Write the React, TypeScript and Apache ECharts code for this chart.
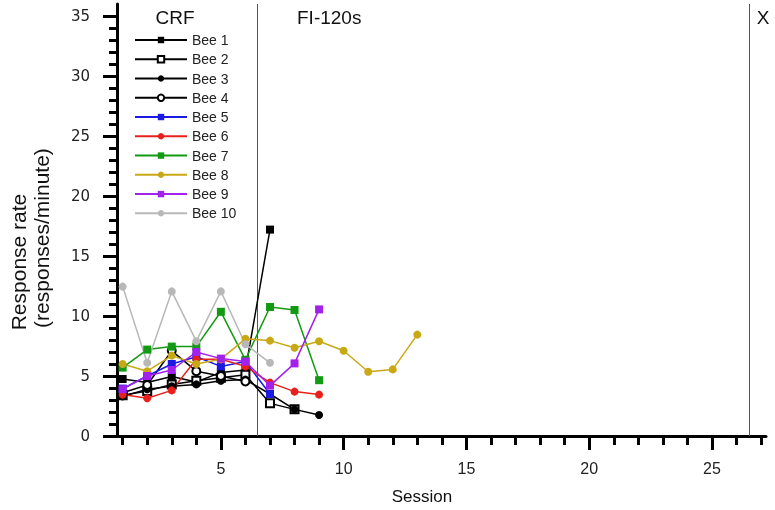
import React, { useEffect, useRef } from "react";
import * as echarts from "echarts";

const beeNames = ["Bee 1", "Bee 2", "Bee 3", "Bee 4", "Bee 5", "Bee 6", "Bee 7", "Bee 8", "Bee 9", "Bee 10"];
const bee1 = [4.75, 4.45, 4.95, 4.5, 5.3, 5.5, 17.2];
const bee2 = [3.4, 3.75, 4.3, 4.6, 4.85, 5.1, 2.72, 2.22];
const bee3 = [3.3, 3.9, 4.15, 4.3, 4.6, 4.7, 3.5, 2.22, 1.75];
const bee4 = [3.6, 4.25, 7.1, 5.4, 5.0, 4.55];
const bee5 = [3.95, 5.0, 6.0, 6.6, 5.8, 6.2, 3.5];
const bee6 = [3.45, 3.15, 3.8, 6.4, 6.4, 5.8, 4.45, 3.7, 3.45];
const bee7 = [5.7, 7.2, 7.45, 7.45, 10.35, 6.35, 10.75, 10.5, 4.65];
const bee8 = [6.0, 5.4, 6.7, 6.0, 6.4, 8.1, 7.95, 7.35, 7.9, 7.1, 5.35, 5.55, 8.45];
const bee9 = [3.9, 5.0, 5.5, 7.0, 6.45, 6.2, 4.2, 6.05, 10.55];
const bee10 = [12.45, 6.1, 12.05, 7.9, 12.05, 7.65, 6.1];
const beeData = [bee1, bee2, bee3, bee4, bee5, bee6, bee7, bee8, bee9, bee10];
const beeColors = ["#000000", "#000000", "#000000", "#000000", "#1a1ae0", "#e8201c", "#139a13", "#c9a816", "#a321ec", "#b8b8b8"];
const beeSymbols = ["rect", "emptyRect", "circle", "emptyCircle", "rect", "circle", "rect", "circle", "rect", "circle"];

const xMinorTicks = Array.from({ length: 27 }, (_, i) => i + 1);
const xMajorTicks = [5, 10, 15, 20, 25];
const yMinorTicks = Array.from({ length: 36 }, (_, i) => i);
const yMajorTicks = [0, 5, 10, 15, 20, 25, 30, 35];
const phaseBoundaries = [6.5, 26.5];

const SANS = "'Liberation Sans', Arial, sans-serif";

export default function App() {
  const ref = useRef<HTMLDivElement>(null);
  useEffect(() => {
    if (!ref.current) return;
    const chart = echarts.init(ref.current, null, { renderer: "svg" });
    const xMin = 0.77;
    const xMax = 27.2;
    const axisLineStyle = { color: "#000", width: 3 };
    const series: any[] = beeData.map((vals, bi) => {
      const hollow = beeSymbols[bi].startsWith("empty");
      const s: any = {
        name: beeNames[bi],
        type: "line",
        data: vals.map((v, i) => [i + 1, v]),
        symbol: beeSymbols[bi],
        symbolSize: 8,
        showAllSymbol: true,
        lineStyle: { color: beeColors[bi], width: 1.5 },
        itemStyle: hollow
          ? { color: beeColors[bi], borderColor: beeColors[bi], borderWidth: 1 }
          : { color: beeColors[bi], borderWidth: 0 },
        emphasis: { disabled: true },
        z: 3,
      };
      if (bi === 0) {
        s.markLine = {
          silent: true,
          symbol: "none",
          label: { show: false },
          lineStyle: { color: "#555", width: 1, type: "solid" },
          data: phaseBoundaries.map((x) => ({ xAxis: x })),
          z: 1,
        };
      }
      return s;
    });

    chart.setOption({
      animation: false,
      grid: { left: 117, right: 9, top: 4, bottom: 74, containLabel: false, outerBoundsMode: "none" },
      legend: {
        data: beeNames,
        orient: "vertical",
        left: 129,
        top: 28,
        itemWidth: 52,
        itemHeight: 8,
        itemGap: 5.26,
        textStyle: { fontSize: 14, fontFamily: SANS, color: "#222", lineHeight: 14 },
        selectedMode: false,
      },
      xAxis: [
        {
          type: "value",
          min: xMin,
          max: xMax,
          position: "bottom",
          axisLine: { show: true, lineStyle: axisLineStyle },
          axisTick: { show: true, customValues: xMinorTicks, length: 9, lineStyle: { color: "#000", width: 3 } },
          axisLabel: {
            customValues: xMajorTicks,
            margin: 24,
            fontSize: 16,
            fontFamily: SANS,
            color: "#222",
          },
          splitLine: { show: false },
        },
        {
          type: "value",
          min: xMin,
          max: xMax,
          position: "bottom",
          axisLine: { show: false },
          axisTick: { show: true, customValues: xMajorTicks, length: 14, lineStyle: { color: "#000", width: 3 } },
          axisLabel: { show: false },
          splitLine: { show: false },
        },
      ],
      yAxis: [
        {
          type: "value",
          min: 0,
          max: 36,
          position: "left",
          axisLine: { show: true, lineStyle: axisLineStyle },
          axisTick: { show: true, customValues: yMinorTicks, length: 8, lineStyle: { color: "#000", width: 3 } },
          axisLabel: {
            customValues: yMajorTicks,
            margin: 27,
            fontSize: 15,
            fontFamily: "'DejaVu Sans', Verdana, sans-serif",
            color: "#222",
          },
          splitLine: { show: false },
        },
        {
          type: "value",
          min: 0,
          max: 36,
          position: "left",
          axisLine: { show: false },
          axisTick: { show: true, customValues: yMajorTicks, length: 14, lineStyle: { color: "#000", width: 3 } },
          axisLabel: { show: false },
          splitLine: { show: false },
        },
      ],
      graphic: [
        { type: "text", x: 175, y: 17, style: { text: "CRF", font: `19px ${SANS}`, fill: "#111", align: "center", verticalAlign: "middle" } },
        { type: "text", x: 297, y: 17, style: { text: "FI-120s", font: `19px ${SANS}`, fill: "#111", align: "left", verticalAlign: "middle" } },
        { type: "text", x: 763, y: 17, style: { text: "X", font: `19px ${SANS}`, fill: "#111", align: "center", verticalAlign: "middle" } },
        { type: "text", x: 422, y: 496, style: { text: "Session", font: `17px ${SANS}`, fill: "#111", align: "center", verticalAlign: "middle" } },
        {
          type: "text",
          x: 18,
          y: 262,
          rotation: Math.PI / 2,
          style: { text: "Response rate", font: `21px ${SANS}`, fill: "#111", align: "center", verticalAlign: "middle" },
        },
        {
          type: "text",
          x: 41,
          y: 238,
          rotation: Math.PI / 2,
          style: { text: "(responses/minute)", font: `21px ${SANS}`, fill: "#111", align: "center", verticalAlign: "middle" },
        },
      ],
      series,
    });
    return () => chart.dispose();
  }, []);
  return <div ref={ref} style={{ position: "fixed", left: 0, top: 0, width: 775, height: 510 }} />;
}
